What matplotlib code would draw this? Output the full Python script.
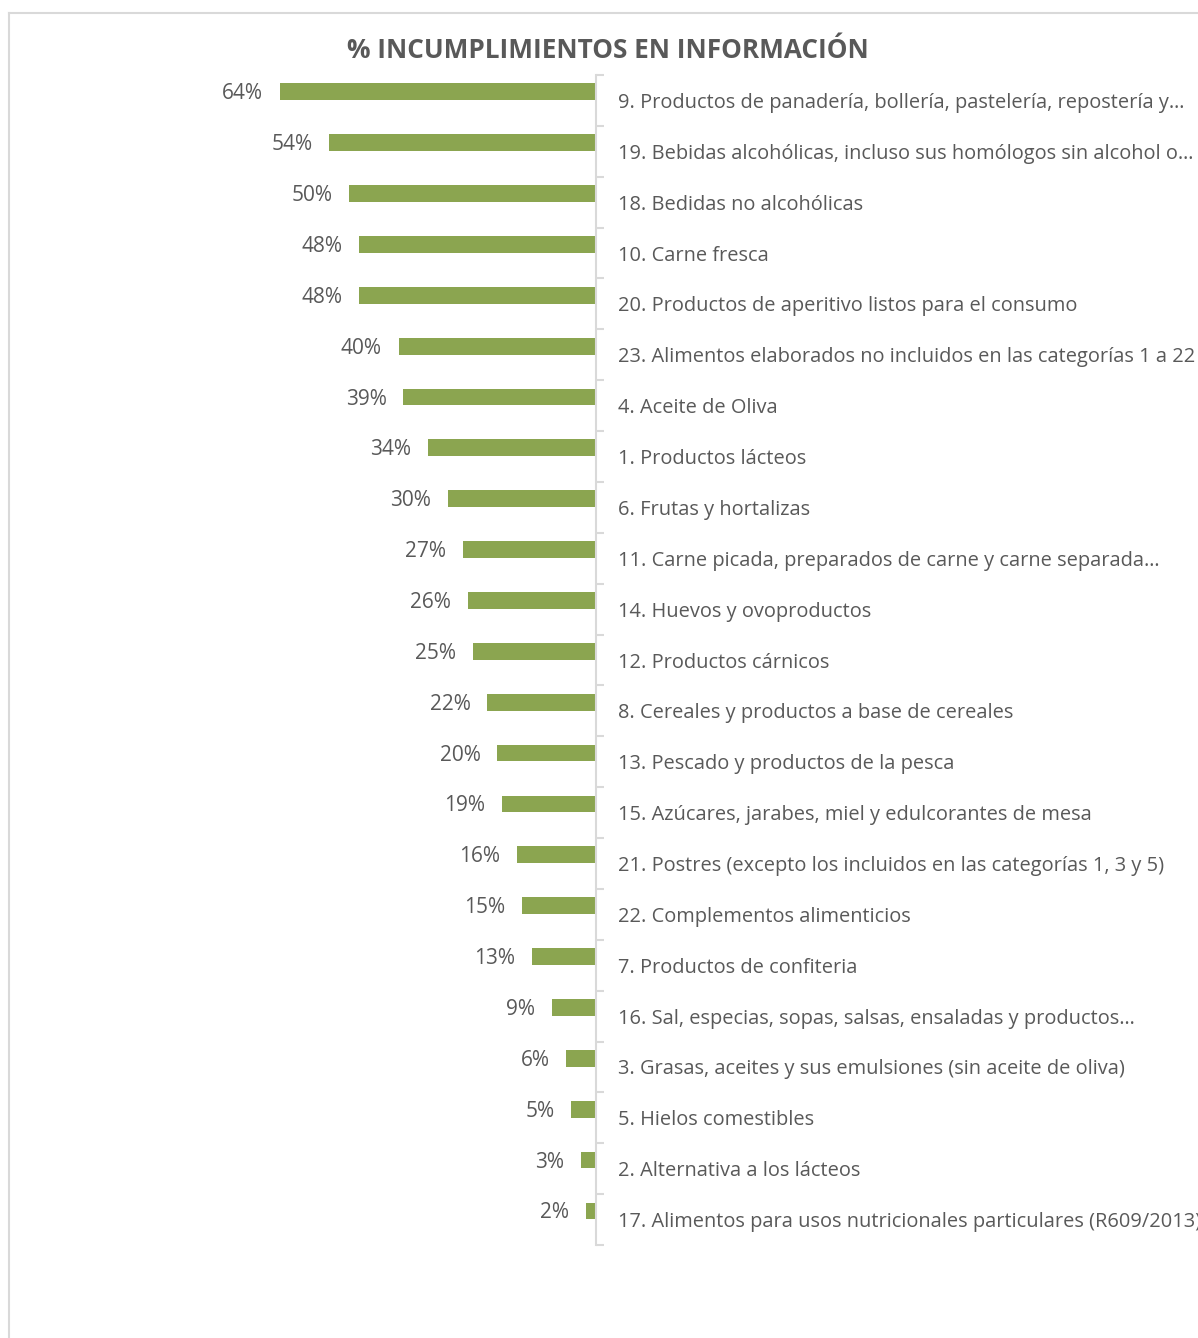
import matplotlib
matplotlib.use("Agg")
import matplotlib.pyplot as plt
from matplotlib.lines import Line2D
from matplotlib.ticker import FixedLocator

plt.rcParams['font.family'] = ['Open Sans', 'DejaVu Sans']

# Data (top to bottom, as in the chart)
categorias = [
    "9. Productos de panadería, bollería, pastelería, repostería y…",
    "19. Bebidas alcohólicas, incluso sus homólogos sin alcohol o…",
    "18. Bedidas no alcohólicas",
    "10. Carne fresca",
    "20. Productos de aperitivo listos para el consumo",
    "23. Alimentos elaborados no incluidos en las categorías 1 a 22",
    "4. Aceite de Oliva",
    "1. Productos lácteos",
    "6. Frutas y hortalizas",
    "11. Carne picada, preparados de carne y carne separada…",
    "14. Huevos y ovoproductos",
    "12. Productos cárnicos",
    "8. Cereales y productos a base de cereales",
    "13. Pescado y productos de la pesca",
    "15. Azúcares, jarabes, miel y edulcorantes de mesa",
    "21. Postres (excepto los incluidos en las categorías 1, 3 y 5)",
    "22. Complementos alimenticios",
    "7. Productos de confiteria",
    "16. Sal, especias, sopas, salsas, ensaladas y productos…",
    "3. Grasas, aceites y sus emulsiones (sin aceite de oliva)",
    "5. Hielos comestibles",
    "2. Alternativa a los lácteos",
    "17. Alimentos para usos nutricionales particulares (R609/2013)",
]
porcentajes = [64, 54, 50, 48, 48, 40, 39, 34, 30, 27, 26, 25, 22, 20, 19, 16, 15, 13, 9, 6, 5, 3, 2]

TEXT = '#595959'
GRID = '#d9d9d9'
BAR = '#8ba550'

W, H = 1198, 1338
fig = plt.figure(figsize=(W / 100, H / 100), dpi=100)

# axes: value 0 sits on the vertical axis line, bars grow to the left
left_px, right_px, top_px, bot_px = 150, 596, 75, 1245
ax = fig.add_axes([left_px / W, 1 - bot_px / H, (right_px - left_px) / W, (bot_px - top_px) / H])
px_per_pct = (596 - 280) / 64
ax.set_xlim((right_px - left_px) / px_per_pct, 0)

n = len(categorias)
pos = list(range(n))
ax.barh([p - 0.17 for p in pos], porcentajes, height=0.33, color=BAR)
ax.set_ylim(n - 0.5, -0.5)

for p, v in zip(pos, porcentajes):
    ax.annotate(f"{v}%", (v, p - 0.13), xytext=(-12, 0), textcoords='offset points',
                ha='right', va='center', fontsize=15, color=TEXT)

for s in ['top', 'bottom', 'left']:
    ax.spines[s].set_visible(False)
ax.spines['right'].set_color(GRID)
ax.spines['right'].set_linewidth(1.5)
ax.set_xticks([])
ax.yaxis.tick_right()
ax.set_yticks(pos)
ax.set_yticklabels(categorias)
ax.yaxis.set_minor_locator(FixedLocator([p - 0.5 for p in range(n + 1)]))
ax.tick_params(axis='y', which='major', length=0, pad=15.8, labelsize=14.4, labelcolor=TEXT)
ax.tick_params(axis='y', which='minor', length=6, width=1.5, color=GRID)

fig.text(608 / W, 1 - 51 / H, "% INCUMPLIMIENTOS EN INFORMACIÓN", ha='center', va='center',
         fontsize=18.8, fontweight='bold', color=TEXT)

# chart frame (runs off the right and bottom of the image)
fig.add_artist(Line2D([8.5 / W, 8.5 / W], [0, 1 - 13 / H], color=GRID, lw=1.5))
fig.add_artist(Line2D([8.5 / W, 1], [1 - 13 / H, 1 - 13 / H], color=GRID, lw=1.5))

fig.savefig('out.png', dpi=100)
